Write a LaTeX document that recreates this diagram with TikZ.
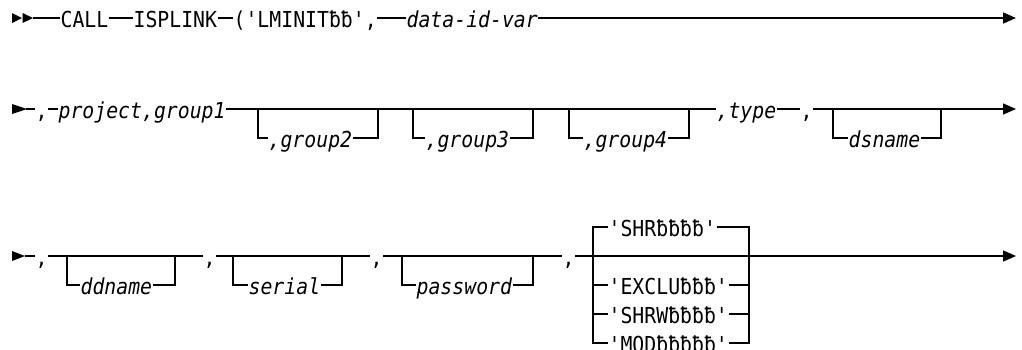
\documentclass[tikz,border=0pt]{standalone}
\usepackage{fontspec}
\usetikzlibrary{arrows.meta}
\newfontfamily\synmono[FakeStretch=0.9,Ligatures=TeXOff]{DejaVu Sans Mono}
\begin{document}
\begin{tikzpicture}[x=1pt,y=-1pt,line width=1.3pt,
  lbl/.style={anchor=west,inner sep=0pt,text height=18pt,text depth=0pt,
    font=\synmono\fontsize{22}{22}\selectfont},
  var/.style={lbl,font=\synmono\itshape\fontsize{22}{22}\selectfont},
  endarrow/.style={-{Triangle[length=13pt,width=11pt]}}]
\useasboundingbox (0,0) rectangle (1022,349);
% ---------------- row 1 ----------------
\fill (12,13) -- (22,18) -- (12,23) -- cycle;
\fill (22.5,13) -- (33,18) -- (22.5,23) -- cycle;
\coordinate (r1s) at (33,18);
\coordinate (r1e) at (1016,18);
\node[lbl] (call) at (60,18) {CALL};
\node[lbl] (isplink) at (133,18) {ISPLINK};
\node[lbl] (lminit) at (233,18) {('LMINITƀƀ',};
\node[var] (dataid) at (406,18) {data-id-var};
\draw (r1s) -- (call.west) (call.east) -- (isplink.west)
      (isplink.east) -- (lminit.west) (lminit.east) -- (dataid.west);
\draw[endarrow] (dataid.east) -- (r1e);
% ---------------- row 2 ----------------
\fill (12,104) -- (27,109) -- (12,114) -- cycle;
\coordinate (r2s) at (26,109);
\coordinate (r2e) at (1016,109);
\node[lbl] (c21) at (35,109) {,};
\node[var] (proj) at (58,109) {project,group1};
\node[var] (type) at (716,109) {,type};
\node[lbl] (c22) at (800,109) {,};
\node[var] (g2) at (268,138) {,group2};
\node[var] (g3) at (425,138) {,group3};
\node[var] (g4) at (583,138) {,group4};
\node[var] (dsn) at (848,138) {dsname};
\coordinate (g2l) at (258,109); \coordinate (g2r) at (378,109);
\coordinate (g3l) at (413,109); \coordinate (g3r) at (533,109);
\coordinate (g4l) at (569,109); \coordinate (g4r) at (689,109);
\coordinate (dsl) at (833,109); \coordinate (dsr) at (941,109);
\draw (r2s) -- (c21.west) (c21.east) -- (proj.west) (proj.east) -- (type.west)
      (type.east) -- (c22.west);
\draw[endarrow] (c22.east) -- (r2e);
\draw (g2l) |- (g2.west) (g2.east) -| (g2r);
\draw (g3l) |- (g3.west) (g3.east) -| (g3r);
\draw (g4l) |- (g4.west) (g4.east) -| (g4r);
\draw (dsl) |- (dsn.west) (dsn.east) -| (dsr);
% ---------------- row 3 ----------------
\fill (12,251) -- (25,256) -- (12,261) -- cycle;
\coordinate (r3s) at (25,256);
\coordinate (r3e) at (1016,256);
\node[lbl] (c31) at (35,256) {,};
\node[lbl] (c32) at (203,256) {,};
\node[lbl] (c33) at (370,256) {,};
\node[lbl] (c34) at (562,256) {,};
\node[var] (ddn) at (80,285) {ddname};
\node[var] (ser) at (248,285) {serial};
\node[var] (pwd) at (416,285) {password};
\coordinate (ddl) at (67,256); \coordinate (ddr) at (175,256);
\coordinate (sel) at (233,256); \coordinate (ser2) at (342,256);
\coordinate (pwl) at (402,256); \coordinate (pwr) at (533,256);
\draw (r3s) -- (c31.west) (c31.east) -- (c32.west) (c32.east) -- (c33.west)
      (c33.east) -- (c34.west);
\draw[endarrow] (c34.east) -- (r3e);
\draw (ddl) |- (ddn.west) (ddn.east) -| (ddr);
\draw (sel) |- (ser.west) (ser.east) -| (ser2);
\draw (pwl) |- (pwd.west) (pwd.east) -| (pwr);
% choice stack
\node[lbl] (shr) at (608,227) {'SHRƀƀƀƀ'};
\node[lbl] (excl) at (608,285) {'EXCLUƀƀƀ'};
\node[lbl] (shrw) at (608,314) {'SHRWƀƀƀƀ'};
\node[lbl] (mod) at (608,343) {'MODƀƀƀƀƀ'};
\coordinate (chl) at (593,256); \coordinate (chr) at (749,256);
\draw (shr.west) -| (chl) |- (mod.west);
\draw (shr.east) -| (chr) |- (mod.east);
\draw (chl |- excl.west) -- (excl.west) (excl.east) -- (chr |- excl.east);
\draw (chl |- shrw.west) -- (shrw.west) (shrw.east) -- (chr |- shrw.east);
\end{tikzpicture}
\end{document}
